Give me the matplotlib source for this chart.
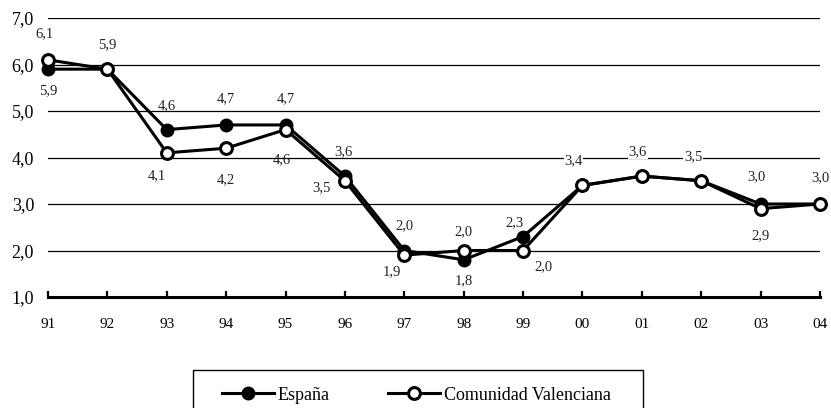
import numpy as np
import matplotlib
matplotlib.use("Agg")
import matplotlib.pyplot as plt
from matplotlib.patches import Rectangle

plt.rcParams['font.family'] = ['Liberation Serif', 'DejaVu Serif']

years = ['91', '92', '93', '94', '95', '96', '97', '98', '99', '00', '01', '02', '03', '04']
espana = [5.9, 5.9, 4.6, 4.7, 4.7, 3.6, 2.0, 1.8, 2.3, 3.4, 3.6, 3.5, 3.0, 3.0]
valencia = [6.1, 5.9, 4.1, 4.2, 4.6, 3.5, 1.9, 2.0, 2.0, 3.4, 3.6, 3.5, 2.9, 3.0]
y_ticks = [1.0, 2.0, 3.0, 4.0, 5.0, 6.0, 7.0]

# label offsets in pixels (None = no label)
esp_off = [(0, -22), (0, 24), (0, 24), (0, 26), (0, 26), (-2, 24), (0, 25), (0, -21),
           (-9, 14), (-9, 25), (-4, 24), (-8, 24), (-4, 27), (0, 26)]
val_off = [(-3, 26), None, (-10, -23), (0, -31), (-4, -30), (-23, -7), (-12, -17), (0, 19),
           (20, -16), None, None, None, (0, -27), None]
boxed = ['00', '01', '02']

fig = plt.figure(figsize=(8.31, 4.08), dpi=100)
ax = fig.add_axes([48 / 831, 1 - 297 / 408, 772 / 831, 279 / 408])

x = np.arange(len(years))
ax.plot(x, espana, color='black', lw=2.2, marker='o', ms=8.5, mfc='black', mec='black',
        mew=1.5, clip_on=False, zorder=3, label='España')
ax.plot(x, valencia, color='black', lw=2.2, marker='o', ms=8.5, mfc='white', mec='black',
        mew=2.2, clip_on=False, zorder=4, label='Comunidad Valenciana')

def fmt(v):
    return f"{v:.1f}".replace('.', ',')

for i, (v, off) in enumerate(zip(espana, esp_off)):
    if off is None:
        continue
    bb = dict(fc='white', ec='none', pad=0.5) if years[i] in boxed else None
    ax.annotate(fmt(v), (i, v), xytext=off, textcoords='offset pixels', ha='center',
                va='center', fontsize=10.5, color='#222222', bbox=bb, zorder=2,
                annotation_clip=False)
for i, (v, off) in enumerate(zip(valencia, val_off)):
    if off is None:
        continue
    ax.annotate(fmt(v), (i, v), xytext=off, textcoords='offset pixels', ha='center',
                va='center', fontsize=10.5, color='#222222', zorder=2,
                annotation_clip=False)

ax.set_xlim(0, len(years) - 1)
ax.set_ylim(1.0, 7.0)
ax.set_yticks(y_ticks)
ax.set_yticklabels([fmt(v) for v in y_ticks], fontsize=13)
ax.set_xticks(x)
ax.set_xticklabels(years, fontsize=11)
ax.yaxis.grid(True, color='black', lw=0.9)
ax.set_axisbelow(True)
ax.tick_params(axis='y', length=0, pad=10)
ax.tick_params(axis='x', direction='in', length=4, width=1.6, pad=15)
for s in ['top', 'right', 'left']:
    ax.spines[s].set_visible(False)
ax.spines['bottom'].set_linewidth(2.2)

# legend frame (open at the bottom edge of the picture)
fig.patches.append(Rectangle((193 / 831, -0.02), 450 / 831, 1 - 370 / 408 + 0.02,
                             transform=fig.transFigure, fill=False, ec='black', lw=1.0))
fig.legend(loc='center left', bbox_to_anchor=(222 / 831, 1 - 395 / 408), ncol=2,
           fontsize=13, frameon=False, borderpad=0, borderaxespad=0,
           handlelength=2.9, handletextpad=0.2, columnspacing=3.2)

fig.savefig('out.png', dpi=100)
